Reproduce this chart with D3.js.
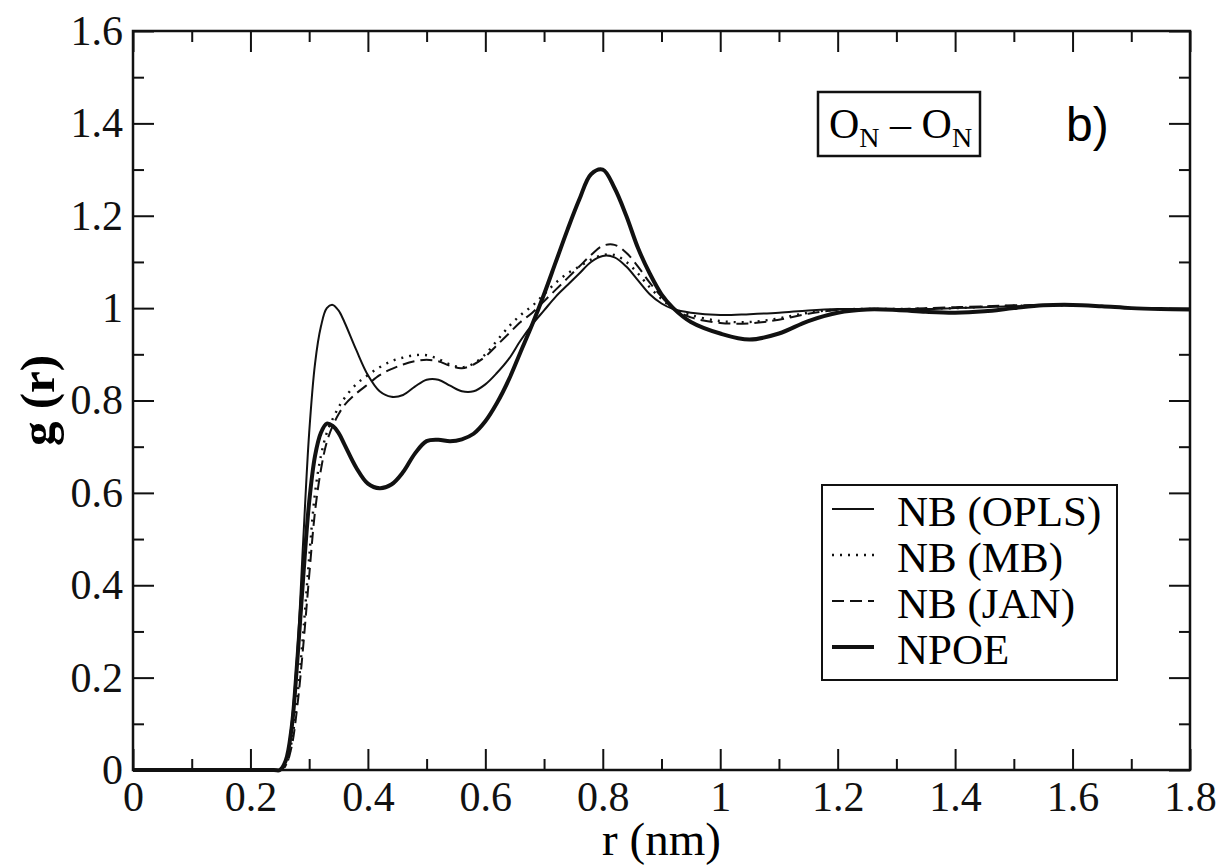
<!DOCTYPE html>
<html>
<head>
<meta charset="utf-8">
<script src="https://cdn.jsdelivr.net/npm/d3@7"></script>
<style>
  body { margin: 0; background: #fff; }
  svg { display: block; }
  .serif { font-family: 'Liberation Serif', 'Times New Roman', Times, 'DejaVu Serif', serif; }
  .sans { font-family: 'Liberation Sans', Arial, Helvetica, sans-serif; }
</style>
</head>
<body>
<svg id="chart" width="1223" height="866"></svg>
<script>
// r grid (nm) shared by all curves
let r = [0, 0.24, 0.25, 0.26, 0.27, 0.28, 0.29, 0.30, 0.31, 0.32, 0.33, 0.34, 0.35, 0.36, 0.38,
    0.40, 0.42, 0.44, 0.46, 0.48, 0.50, 0.52, 0.54, 0.56, 0.58, 0.60, 0.62, 0.64, 0.66, 0.68,
    0.70, 0.72, 0.74, 0.76, 0.78, 0.80, 0.82, 0.84, 0.86, 0.88, 0.90, 0.92, 0.95, 1.00, 1.05,
    1.10, 1.15, 1.20, 1.25, 1.30, 1.35, 1.40, 1.45, 1.50, 1.55, 1.60, 1.65, 1.70, 1.75, 1.80];

let opls = [0, 0, 0, 0.02, 0.10, 0.26, 0.50, 0.73, 0.88, 0.96, 1.0, 1.007, 0.995, 0.97, 0.91,
    0.855, 0.82, 0.808, 0.812, 0.83, 0.845, 0.845, 0.832, 0.82, 0.82, 0.835, 0.86, 0.89, 0.93, 0.965,
    0.995, 1.025, 1.05, 1.075, 1.10, 1.113, 1.11, 1.09, 1.06, 1.03, 1.01, 0.998, 0.99, 0.985, 0.987,
    0.99, 0.995, 0.998, 0.998, 0.998, 0.998, 1.0, 1.002, 1.004, 1.006, 1.006, 1.004, 1.0, 0.998, 0.997];

let mb = [0, 0, 0, 0.01, 0.06, 0.16, 0.30, 0.46, 0.60, 0.68, 0.73, 0.76, 0.785, 0.805, 0.835,
    0.855, 0.872, 0.885, 0.893, 0.898, 0.898, 0.89, 0.878, 0.872, 0.88, 0.90, 0.93, 0.96, 0.985, 1.005,
    1.03, 1.055, 1.075, 1.09, 1.105, 1.115, 1.115, 1.10, 1.075, 1.045, 1.02, 1.0, 0.985, 0.972, 0.97,
    0.978, 0.99, 0.997, 0.998, 0.998, 0.999, 1.0, 1.003, 1.005, 1.006, 1.006, 1.004, 1.0, 0.998, 0.997];

let jan = [0, 0, 0, 0.01, 0.05, 0.14, 0.27, 0.42, 0.56, 0.65, 0.71, 0.745, 0.77, 0.79, 0.815,
    0.835, 0.855, 0.868, 0.878, 0.885, 0.888, 0.885, 0.875, 0.87, 0.878, 0.895, 0.92, 0.945, 0.97, 0.99,
    1.015, 1.04, 1.065, 1.09, 1.115, 1.135, 1.137, 1.12, 1.09, 1.055, 1.025, 1.0, 0.98, 0.968, 0.967,
    0.975, 0.988, 0.996, 0.998, 0.998, 1.0, 1.002, 1.004, 1.006, 1.007, 1.006, 1.004, 1.0, 0.998, 0.997];

let npoe = [0, 0, 0, 0.02, 0.09, 0.24, 0.42, 0.58, 0.68, 0.73, 0.75, 0.745, 0.73, 0.705, 0.655,
    0.62, 0.61, 0.618, 0.645, 0.685, 0.712, 0.715, 0.712, 0.716, 0.728, 0.755, 0.795, 0.845, 0.905, 0.965,
    1.03, 1.10, 1.17, 1.235, 1.29, 1.30, 1.26, 1.20, 1.13, 1.075, 1.03, 1.0, 0.97, 0.945, 0.932,
    0.945, 0.972, 0.99, 0.997, 0.996, 0.992, 0.99, 0.993, 1.0, 1.006, 1.007, 1.004, 1.0, 0.998, 0.997];

let seriesNames = ["NB (OPLS)", "NB (MB)", "NB (JAN)", "NPOE"];
let xTicks = [0, 0.2, 0.4, 0.6, 0.8, 1, 1.2, 1.4, 1.6, 1.8];
let yTicks = [0, 0.2, 0.4, 0.6, 0.8, 1, 1.2, 1.4, 1.6];

let svg = d3.select('#chart');
let margin = { left: 133, right: 1223 - 1190, top: 31, bottom: 866 - 770 };
let width = 1223 - margin.left - margin.right;
let height = 866 - margin.top - margin.bottom;

svg.append('rect').attr('width', 1223).attr('height', 866).attr('fill', '#fff');

let x = d3.scaleLinear().domain([0, 1.8]).range([0, width]);
let y = d3.scaleLinear().domain([0, 1.6]).range([height, 0]);

let g = svg.append('g').attr('transform', `translate(${margin.left},${margin.top})`);

let xMinor = d3.range(1, 18, 2).map(d => d / 10);
let yMinor = d3.range(1, 16, 2).map(d => d / 10);
let fmt = d3.format('~g');

function styleAxis(sel) {
    sel.select('.domain').remove();
    sel.attr('font-family', null).attr('font-size', null);
    sel.selectAll('line').attr('stroke', '#111').attr('stroke-width', 2);
    sel.selectAll('text').attr('class', 'serif').style('font-size', '42px').attr('fill', '#111');
}

// bottom and left, with labels
g.append('g').attr('transform', `translate(0,${height})`)
    .call(d3.axisBottom(x).tickValues(xTicks).tickFormat(fmt).tickSize(-21).tickPadding(11))
    .call(styleAxis);
g.append('g').attr('transform', `translate(0,${height})`)
    .call(d3.axisBottom(x).tickValues(xMinor).tickFormat('').tickSize(-11))
    .call(styleAxis);
g.append('g')
    .call(d3.axisLeft(y).tickValues(yTicks).tickFormat(fmt).tickSize(-21).tickPadding(10))
    .call(styleAxis);
g.append('g')
    .call(d3.axisLeft(y).tickValues(yMinor).tickFormat('').tickSize(-11))
    .call(styleAxis);

// top and right, mirrored ticks only
g.append('g')
    .call(d3.axisTop(x).tickValues(xTicks).tickFormat('').tickSize(-21))
    .call(styleAxis);
g.append('g')
    .call(d3.axisTop(x).tickValues(xMinor).tickFormat('').tickSize(-11))
    .call(styleAxis);
g.append('g').attr('transform', `translate(${width},0)`)
    .call(d3.axisRight(y).tickValues(yTicks).tickFormat('').tickSize(-21))
    .call(styleAxis);
g.append('g').attr('transform', `translate(${width},0)`)
    .call(d3.axisRight(y).tickValues(yMinor).tickFormat('').tickSize(-11))
    .call(styleAxis);

g.append('rect')
    .attr('width', width).attr('height', height)
    .attr('fill', 'none').attr('stroke', '#111').attr('stroke-width', 2.5);

// curves
let styles = [
    { data: opls, width: 2, dash: null },
    { data: mb, width: 2.4, dash: '2,6' },
    { data: jan, width: 2, dash: '12,6' },
    { data: npoe, width: 4, dash: null }
];

let line = d3.line()
    .x((d, i) => x(r[i]))
    .y(d => y(d))
    .curve(d3.curveCatmullRom.alpha(0.5));

g.selectAll('path.curve')
    .data(styles)
    .join('path')
    .attr('class', 'curve')
    .attr('d', d => line(d.data))
    .attr('fill', 'none')
    .attr('stroke', '#111')
    .attr('stroke-width', d => d.width)
    .attr('stroke-dasharray', d => d.dash)
    .attr('stroke-linejoin', 'round');

// axis titles
svg.append('text')
    .attr('class', 'serif')
    .attr('x', margin.left + width / 2).attr('y', 855)
    .attr('text-anchor', 'middle')
    .style('font-size', '47px')
    .text('r (nm)');
svg.append('text')
    .attr('class', 'serif')
    .attr('transform', `translate(54,${margin.top + height / 2}) rotate(-90)`)
    .attr('text-anchor', 'middle')
    .style('font-size', '49px').style('font-weight', 'bold')
    .text('g (r)');

// legend
let legend = svg.append('g');
legend.append('rect')
    .attr('x', 822).attr('y', 485).attr('width', 1117 - 822).attr('height', 680 - 485)
    .attr('fill', '#fff').attr('stroke', '#111').attr('stroke-width', 2);
seriesNames.forEach((name, i) => {
    let base = 526 + i * 46;
    legend.append('line')
        .attr('x1', 832).attr('x2', 874)
        .attr('y1', base - 17).attr('y2', base - 17)
        .attr('stroke', '#111')
        .attr('stroke-width', styles[i].width)
        .attr('stroke-dasharray', styles[i].dash);
    legend.append('text')
        .attr('class', 'serif')
        .attr('x', 897).attr('y', base)
        .style('font-size', '43px')
        .text(name);
});

// pair label box
svg.append('rect')
    .attr('x', 818).attr('y', 92).attr('width', 162).attr('height', 64)
    .attr('fill', '#fff').attr('stroke', '#111').attr('stroke-width', 2.5);
let lab = svg.append('text')
    .attr('class', 'serif')
    .attr('x', 829).attr('y', 138)
    .style('font-size', '42px');
lab.append('tspan').text('O');
lab.append('tspan').attr('dy', 9).style('font-size', '28px').text('N');
lab.append('tspan').attr('dy', -9).text(' \u2013 ');
lab.append('tspan').text('O');
lab.append('tspan').attr('dy', 9).style('font-size', '28px').text('N');

svg.append('text')
    .attr('class', 'sans')
    .attr('x', 1066).attr('y', 141)
    .style('font-size', '48px')
    .text('b)');
</script>
</body>
</html>
